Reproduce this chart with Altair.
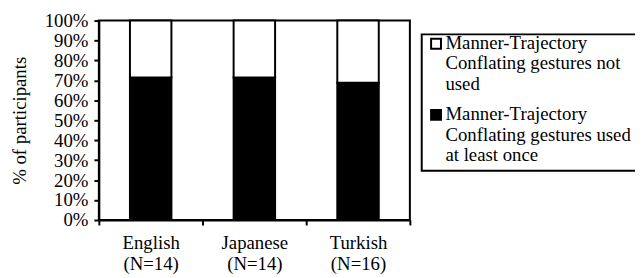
import altair as alt
import pandas as pd

# ---- data ----
languages = ["English", "Japanese", "Turkish"]
sample_sizes = ["(N=14)", "(N=14)", "(N=16)"]
used_pct = [71.4, 71.4, 68.8]          # % who used M-T conflating gestures at least once
series = [
    "Manner-Trajectory|Conflating gestures not|used",
    "Manner-Trajectory|Conflating gestures used|at least once",
]
series_colors = ["white", "black"]
y_ticks = [0, 10, 20, 30, 40, 50, 60, 70, 80, 90, 100]

cats = [f"{l}|{n}" for l, n in zip(languages, sample_sizes)]
rows = []
for cat, u in zip(cats, used_pct):
    rows.append({"cat": cat, "series": series[1], "pct": u, "ord": 0})
    rows.append({"cat": cat, "series": series[0], "pct": 100 - u, "ord": 1})
df = pd.DataFrame(rows)

FONT = "Times New Roman"

chart = (
    alt.Chart(df)
    .mark_bar(width=alt.RelativeBandSize(0.4), stroke="black", strokeWidth=2)
    .encode(
        x=alt.X(
            "cat:N",
            sort=cats,
            scale=alt.Scale(paddingInner=0, paddingOuter=0),
            axis=alt.Axis(
                title=None,
                labelAngle=0,
                labelExpr="split(datum.label, '|')",
                tickBand="extent",
                labelPadding=9,
                labelLineHeight=21,
            ),
        ),
        y=alt.Y(
            "pct:Q",
            stack="zero",
            scale=alt.Scale(domain=[0, 100], nice=False),
            axis=alt.Axis(
                values=y_ticks,
                labelExpr="datum.value + '%'",
                title="% of participants",
                titleX=-74,
                titleY=101,
                titleBaseline="alphabetic",
                titleAngle=270,
                labelPadding=6,
                grid=False,
            ),
        ),
        color=alt.Color(
            "series:N",
            sort=series,
            scale=alt.Scale(domain=series, range=series_colors),
            legend=alt.Legend(
                title=None,
                orient="none",
                legendX=327,
                legendY=14,
                labelExpr="split(datum.label, '|')",
                symbolType="M-1,-2H1V0H-1Z",
                symbolSize=100,
                symbolStrokeColor="black",
                symbolStrokeWidth=2,
                labelBaseline="alphabetic",
                labelLimit=400,
                labelOffset=0,
                padding=5,
                rowPadding=10,
                strokeColor="black",
            ),
        ),
        order=alt.Order("ord:Q"),
    )
    .properties(
        width=315,
        height=202,
        autosize=alt.AutoSizeParams(type="none"),
        padding={"left": 92, "top": 11, "right": 228, "bottom": 57},
    )
    .configure_view(stroke="black", strokeWidth=2)
    .configure_axis(
        domainColor="black",
        domainWidth=2,
        tickColor="black",
        tickWidth=2,
        tickSize=5,
        labelColor="black",
        labelFont=FONT,
        labelFontSize=19,
        titleFont=FONT,
        titleFontSize=19,
        titleFontWeight="normal",
        titleColor="black",
    )
    .configure_legend(
        labelFont=FONT,
        labelFontSize=19,
        labelColor="black",
        strokeWidth=2,
    )
)

chart.save("out.html", embed_options={"renderer": "svg", "actions": False})
